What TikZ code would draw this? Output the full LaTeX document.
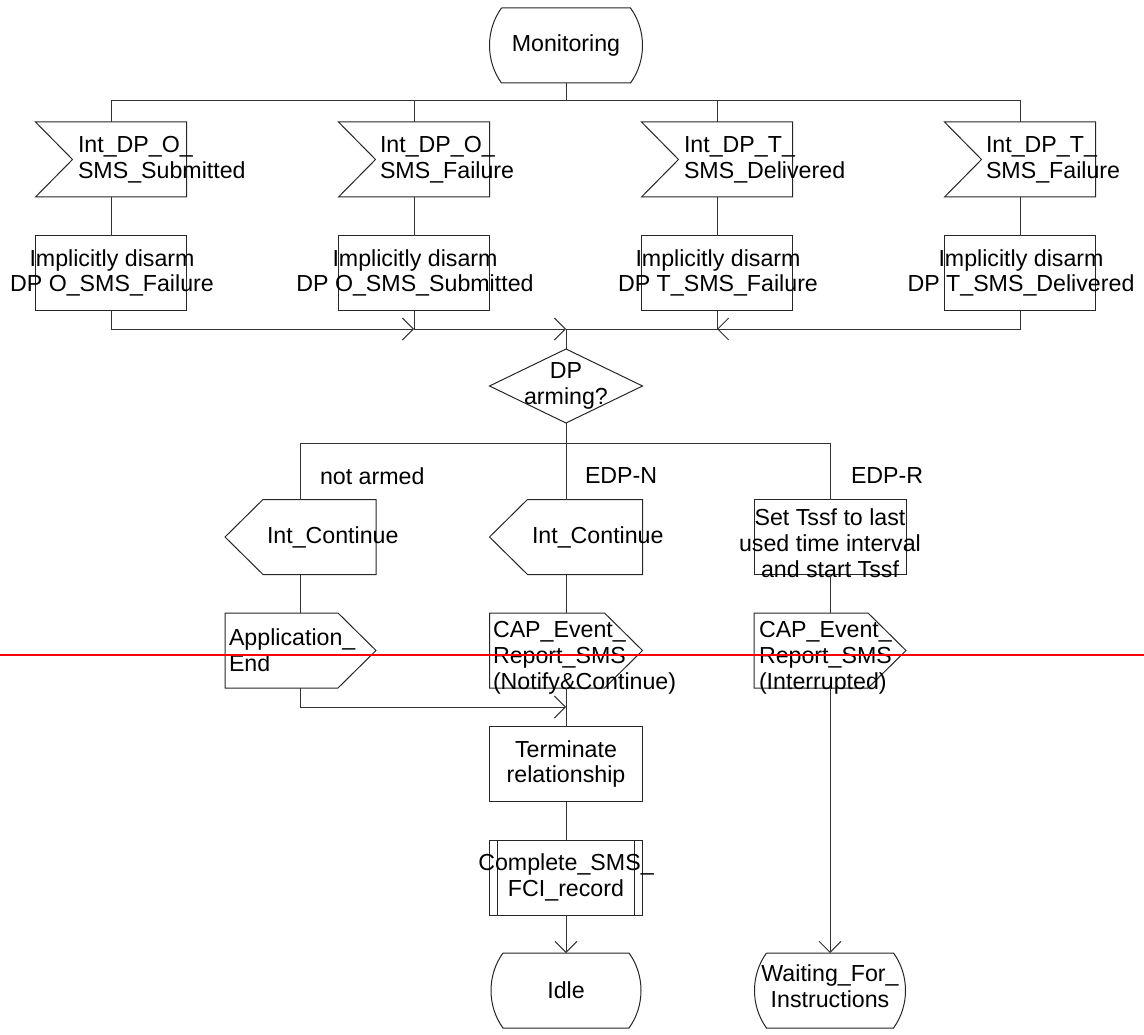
\documentclass[tikz,border=0pt]{standalone}
\usepackage{fontspec}
\setmainfont{Liberation Sans}
\usetikzlibrary{calc,arrows.meta}

\tikzset{
  every node/.style={font=\fontsize{23.2}{25.8}\selectfont, inner sep=0pt, outer sep=0pt},
  shp/.style={draw=black!85, line width=1pt},
  ln/.style={draw=black!80, line width=1pt},
  frame/.style={minimum width=153pt, minimum height=75pt},
  rbox/.style={frame, shp, align=center},
  txt/.style={align=left, anchor=west},
  ctxt/.style={align=center},
  lbl/.style={anchor=west},
  >={Straight Barb[length=11pt,width=22pt]}
}

\newcommand\sdlterm[1]{\draw[shp] ($(#1.north west)+(12,0)$) -- ($(#1.north east)+(-12,0)$)
  .. controls ($(#1.north east)+(4,22)$) and ($(#1.south east)+(4,-22)$) .. ($(#1.south east)+(-12,0)$)
  -- ($(#1.south west)+(12,0)$)
  .. controls ($(#1.south west)+(-4,-22)$) and ($(#1.north west)+(-4,22)$) .. ($(#1.north west)+(12,0)$);}
\newcommand\sdlin[1]{\draw[shp] (#1.north west) -- (#1.north east) -- (#1.south east) -- (#1.south west) -- ($(#1.west)+(37,0)$) -- cycle;}
\newcommand\sdloutr[1]{\draw[shp] (#1.north west) -- ($(#1.north east)+(-38,0)$) -- (#1.east) -- ($(#1.south east)+(-38,0)$) -- (#1.south west) -- cycle;}
\newcommand\sdloutl[1]{\draw[shp] (#1.north east) -- ($(#1.north west)+(38,0)$) -- (#1.west) -- ($(#1.south west)+(38,0)$) -- (#1.south east) -- cycle;}
\newcommand\sdldia[1]{\draw[shp] (#1.north) -- (#1.east) -- (#1.south) -- (#1.west) -- cycle;}
\newcommand\sdlproc[1]{\draw[shp] (#1.north west) rectangle (#1.south east);
  \draw[shp] ($(#1.north west)+(8,0)$) -- ($(#1.south west)+(8,0)$);
  \draw[shp] ($(#1.north east)+(-8,0)$) -- ($(#1.south east)+(-8,0)$);}

\begin{document}
\begin{tikzpicture}[x=1pt,y=-1pt]
\useasboundingbox (0,0) rectangle (1144,1035);

% start state
\node[frame] (mon) at (566,45.5) {Monitoring};
\sdlterm{mon}

% input signals
\node[frame, minimum width=151pt] (s1) at (111,159.5) {};
\node[frame, minimum width=151pt] (s2) at (414,159.5) {};
\node[frame, minimum width=151pt] (s3) at (717,159.5) {};
\node[frame, minimum width=151pt] (s4) at (1020,159.5) {};
\sdlin{s1}\sdlin{s2}\sdlin{s3}\sdlin{s4}
\node[txt] (ts1) at (78,160) {Int\_DP\_O\_\\SMS\_Submitted};
\node[txt] (ts2) at (380,160) {Int\_DP\_O\_\\SMS\_Failure};
\node[txt] (ts3) at (684,160) {Int\_DP\_T\_\\SMS\_Delivered};
\node[txt] (ts4) at (986,160) {Int\_DP\_T\_\\SMS\_Failure};

% tasks
\node[frame, shp, minimum width=151pt] (d1) at (111,273.5) {};
\node[frame, shp, minimum width=151pt] (d2) at (414,273.5) {};
\node[frame, shp, minimum width=151pt] (d3) at (717,273.5) {};
\node[frame, shp, minimum width=151pt] (d4) at (1020,273.5) {};
\node[ctxt] (td1) at (112,273) {Implicitly disarm\\DP O\_SMS\_Failure};
\node[ctxt] (td2) at (415,273) {Implicitly disarm\\DP O\_SMS\_Submitted};
\node[ctxt] (td3) at (718,273) {Implicitly disarm\\DP T\_SMS\_Failure};
\node[ctxt] (td4) at (1021,273) {Implicitly disarm\\DP T\_SMS\_Delivered};

% decision
\node[frame, minimum height=74pt, align=center] (dp) at (566,386) {DP\\arming?};
\sdldia{dp}

% branch labels
\node[lbl] (lna) at (320,476) {not armed};
\node[lbl] (ledn) at (585,476) {EDP-N};
\node[lbl] (ledr) at (851,476) {EDP-R};

% second row
\node[frame, minimum width=151pt] (c1) at (300.5,537) {};
\sdloutl{c1}
\node[lbl] (tc1) at (267,537) {Int\_Continue};
\node[frame] (c2) at (566,537) {};
\sdloutl{c2}
\node[lbl] (tc2) at (532,537) {Int\_Continue};
\node[frame, shp, minimum width=152pt] (tssf) at (830,537) {};
\node[ctxt] (ttssf) at (830,543) {Set Tssf to last\\used time interval\\and start Tssf};

% third row
\node[frame, minimum width=151pt] (ae) at (300.5,650.5) {};
\sdloutr{ae}
\node[txt] (tae) at (229,650.5) {Application\_\\End};
\node[frame] (cap1) at (566,650.5) {};
\sdloutr{cap1}
\node[txt] (tcap1) at (493,658) {CAP\_Event\_\\Report\_SMS\\(Notify\&Continue)};
\node[frame, minimum width=152pt] (cap2) at (830,650.5) {};
\sdloutr{cap2}
\node[txt] (tcap2) at (759,658) {CAP\_Event\_\\Report\_SMS\\(Interrupted)};

% lower part
\node[rbox] (term) at (566,764) {Terminate\\relationship};
\node[frame] (comp) at (566,877.5) {};
\sdlproc{comp}
\node[ctxt] (tcomp) at (566,877.5) {Complete\_SMS\_\\FCI\_record};
\node[frame, minimum width=150pt] (idle) at (566,990.5) {Idle};
\sdlterm{idle}
\node[frame, minimum width=151pt] (wait) at (830,990.5) {};
\sdlterm{wait}
\node[ctxt] (twait) at (830,986) {Waiting\_For\_\\Instructions};

% connectors
\coordinate (busM) at (566,101);
\draw[ln] (mon.south) -- (busM);
\draw[ln] (busM) -| (s1.north);
\draw[ln] (busM) -| (s2.north);
\draw[ln] (busM) -| (s3.north);
\draw[ln] (busM) -| (s4.north);
\draw[ln] (s1.south) -- (d1.north);
\draw[ln] (s2.south) -- (d2.north);
\draw[ln] (s3.south) -- (d3.north);
\draw[ln] (s4.south) -- (d4.north);

\coordinate (j1) at (414,329);
\coordinate (j0) at (566,329);
\coordinate (j3) at (717,329);
\draw[ln,->] (d1.south) |- (j1);
\draw[ln,->] (d2.south) |- (j0);
\draw[ln] (d3.south) |- (j0);
\draw[ln,->] (d4.south) |- (j3);
\draw[ln] (j0) -- (dp.north);

\coordinate (br) at (566,443);
\draw[ln] (dp.south) -- (br);
\draw[ln] (br) -| (c1.north);
\draw[ln] (br) -- (c2.north);
\draw[ln] (br) -| (tssf.north);

\draw[ln] (c1.south) -- (ae.north);
\draw[ln] (c2.south) -- (cap1.north);
\draw[ln] (tssf.south) -- (cap2.north);

\coordinate (j4) at (566,707);
\draw[ln,->] (ae.south) |- (j4);
\draw[ln] (cap1.south) -- (term.north);
\draw[ln] (term.south) -- (comp.north);
\draw[ln,->] (comp.south) -- (idle.north);
\draw[ln,->] (cap2.south) -- (wait.north);

% red rule across the page
\coordinate (rl) at (0,655);
\coordinate (rr) at (1144,655);
\draw[red, line width=2pt] (rl) -- (rr);
\end{tikzpicture}
\end{document}
